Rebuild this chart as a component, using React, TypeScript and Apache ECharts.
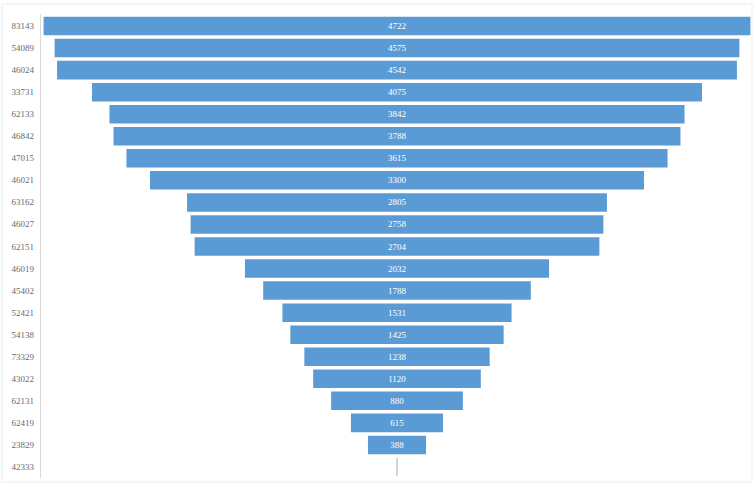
import React, { useEffect, useRef } from "react";
import * as echarts from "echarts";

const categories = [
  "83143", "54089", "46024", "33731", "62133", "46842", "47015", "46021", "63162", "46027", "62151",
  "46019", "45402", "52421", "54138", "73329", "43022", "62131", "62419", "23829", "42333",
];
const values = [
  4722, 4575, 4542, 4075, 3842, 3788, 3615, 3300, 2805, 2758, 2704,
  2032, 1788, 1531, 1425, 1238, 1120, 880, 615, 388, 5,
];
const axisMax = 4770;

export default function App() {
  const ref = useRef<HTMLDivElement>(null);
  useEffect(() => {
    if (!ref.current) return;
    const chart = echarts.init(ref.current, undefined, { renderer: "svg" });
    const offsets = values.map((v) => (axisMax - v) / 2);
    chart.setOption({
      animation: false,
      backgroundColor: "#ffffff",
      grid: { left: 40, right: 0, top: 15, bottom: 7, containLabel: false },
      graphic: [
        {
          type: "rect",
          shape: { x: 2, y: 4, width: 750, height: 478 },
          style: { fill: "none", stroke: "#ececec", lineWidth: 1 },
          silent: true,
        },
      ],
      xAxis: { type: "value", min: 0, max: axisMax, show: false },
      yAxis: {
        type: "category",
        data: categories,
        inverse: true,
        axisLine: { show: true, lineStyle: { color: "#d9d9d9" } },
        axisTick: { show: false },
        axisLabel: {
          color: "#6a6a6a",
          fontFamily: "Liberation Serif",
          fontSize: 9,
          margin: 6,
        },
      },
      series: [
        {
          type: "bar",
          stack: "f",
          data: offsets,
          itemStyle: { color: "transparent" },
          silent: true,
          barCategoryGap: "16%",
        },
        {
          type: "bar",
          stack: "f",
          data: values.map((v, i) =>
            i === values.length - 1
              ? { value: v, itemStyle: { color: "#8a8a8a" }, label: { show: false } }
              : v
          ),
          barCategoryGap: "16%",
          itemStyle: { color: "#5B9BD5" },
          label: {
            show: true,
            position: "inside",
            color: "#ffffff",
            fontFamily: "Liberation Serif",
            fontSize: 9,
          },
        },
      ],
    });
    return () => chart.dispose();
  }, []);
  return (
    <div
      ref={ref}
      style={{ position: "fixed", left: 0, top: 0, width: 754, height: 485 }}
    />
  );
}
